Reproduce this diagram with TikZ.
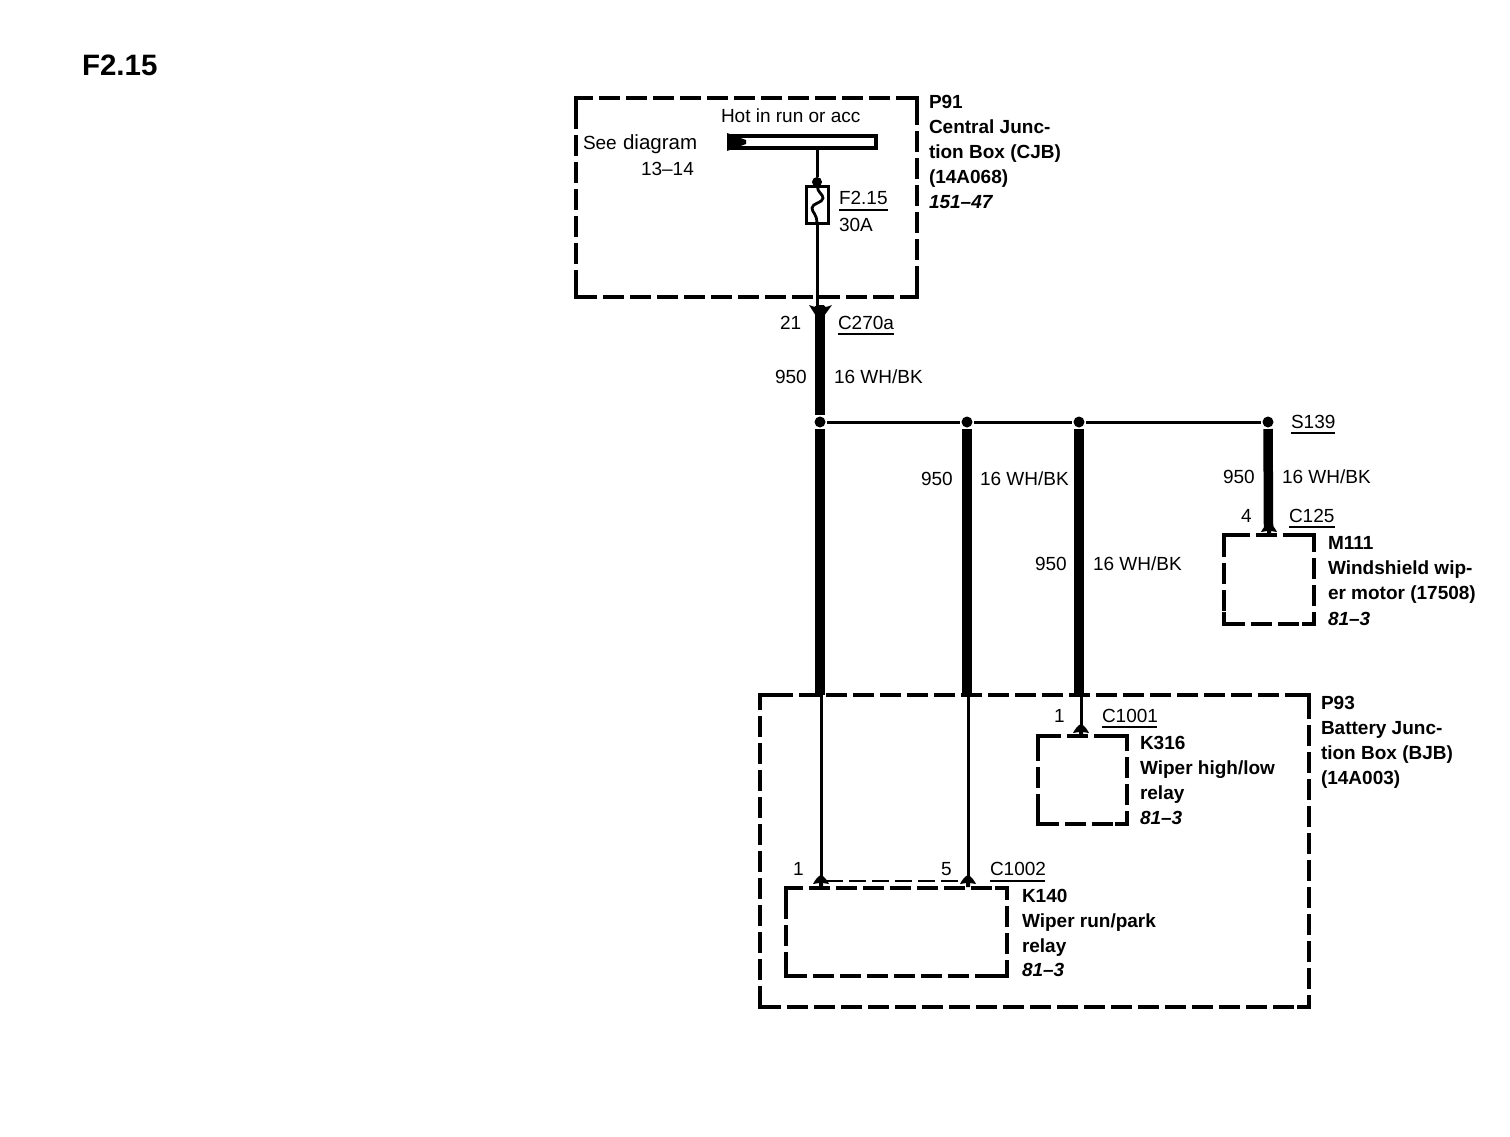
\documentclass[tikz,border=0pt]{standalone}
\usepackage{fontspec}
\setmainfont{Liberation Sans}
\newcommand{\regfont}{\fontsize{19}{19}\selectfont}
\newcommand{\pinup}[2]{\fill (#1-8,#2+2) .. controls (#1-6,#2-2) and (#1-3,#2-6) .. (#1,#2-7) .. controls (#1+3,#2-6) and (#1+6,#2-2) .. (#1+8,#2+2) -- (#1+2,#2+1) -- (#1+2,#2+5) -- (#1-2,#2+5) -- (#1-2,#2+1) -- cycle;}
\newcommand{\corners}[1]{%
  \draw[cornermark] ([yshift=-12pt]#1.north west) -- (#1.north west) -- ([xshift=12pt]#1.north west);
  \draw[cornermark] ([xshift=-12pt]#1.north east) -- (#1.north east) -- ([yshift=-12pt]#1.north east);
  \draw[cornermark] ([yshift=12pt]#1.south west) -- (#1.south west) -- ([xshift=12pt]#1.south west);
  \draw[cornermark] ([xshift=-12pt]#1.south east) -- (#1.south east) -- ([yshift=12pt]#1.south east);}
\tikzset{
  x=1pt,y=-1pt,
  txt/.style={anchor=base west,inner sep=0pt,outer sep=0pt,font=\regfont},
  bld/.style={txt,font=\regfont\bfseries},
  ita/.style={txt,font=\regfont\bfseries\itshape},
  dashbox/.style={draw,line width=3.6pt,dash pattern=on 21pt off 6pt,inner sep=0pt,outer sep=0pt},
  cornermark/.style={line width=3.6pt,miter limit=10},
  thinwire/.style={line width=3pt},
  thickwire/.style={line width=9.5pt},
  splice/.style={circle,fill=black,inner sep=0pt,minimum size=11pt,outer sep=1.5pt},
  rulemark/.style={line width=1.5pt},
}
\begin{document}
\begin{tikzpicture}
\useasboundingbox (0,0) rectangle (1510,1136);
\fill[white] (0,0) rectangle (1510,1136);
\node[txt,font=\fontsize{29.5}{29.5}\selectfont\bfseries] (title) at (82,75) {F2.15};

% boxes
\node[dashbox,minimum width=341pt,minimum height=199pt] (p91) at (746.5,197.5) {};
\node[dashbox,minimum width=549pt,minimum height=312pt] (p93) at (1034.5,851) {};
\node[dashbox,minimum width=89pt,minimum height=88pt] (k316) at (1082.5,780) {};
\node[dashbox,minimum width=221pt,minimum height=88pt] (k140) at (896.5,932) {};
\node[dashbox,minimum width=90pt,minimum height=89pt] (m111) at (1269,579.5) {};
\corners{p91}\corners{p93}\corners{k316}\corners{k140}\corners{m111}

% bus bar
\node[draw,line width=4.5pt,inner sep=0pt,outer sep=0pt,minimum width=146pt,minimum height=12pt] (bus) at (803,142) {};
\fill (727,133) -- (746,140) -- (746,144) -- (727,151) -- cycle;

% fuse
\node[draw,line width=2.8pt,inner sep=0pt,outer sep=0pt,minimum width=22pt,minimum height=37pt] (fuse) at (817.5,205) {};
\node[splice,minimum size=10pt,outer sep=0pt] (fdot) at (817,182) {};
\draw[line width=2.8pt] (fuse.north) .. controls (817,192) and (823,194) .. (823,198) .. controls (823,203) and (812,203) .. (812,208) .. controls (812,213) and (817,213) .. (817,224);
\draw[thinwire] (bus.south -| fdot) -- (fdot);
\coordinate (c270top) at (817.5,307);
\draw[thinwire] (fuse.south) -- (c270top);

% splices
\node[splice] (s1) at (820,422) {};
\node[splice] (s2) at (967,422) {};
\node[splice] (s3) at (1079,422) {};
\node[splice] (s4) at (1268,422) {};
\draw[thinwire] (s1) -- (s2);
\draw[thinwire] (s2) -- (s3);
\draw[thinwire] (s3) -- (s4);

% thick wires
\coordinate (c270) at (820,306);
\draw[thickwire] (c270) -- (s1);
\draw[thickwire] (s1) -- (s1 |- p93.north);
\draw[thickwire] (s2) -- (s2 |- p93.north);
\draw[thickwire] (s3) -- (s3 |- p93.north);
\coordinate (m111pin) at (1268.5,527);
\draw[thickwire] (s4) -- (m111pin);

% thin wires inside P93
\coordinate (k1) at (821,880);
\coordinate (k5) at (968,880);
\coordinate (k3) at (1081,728);
\draw[thinwire] (k1 |- p93.north) -- (k1);
\draw[thinwire] (k5 |- p93.north) -- (k5);
\draw[thinwire] (k3 |- p93.north) -- (k3);
\draw[line width=2.8pt,dash pattern=on 17pt off 6pt] (826,881) -- (963,881);

% pins
\pinup{821}{882}
\pinup{968}{882}
\pinup{1081}{731}
\pinup{1269}{530}
\fill (809,305) .. controls (815,307) and (817,308) .. (817,305) -- (824,305) .. controls (824,308) and (827,307) .. (832,305) -- (824,316) -- (816,316) -- cycle;

% texts
\node[txt] (hot) at (721,122) {Hot in run or acc};
\node[txt] (see) at (583,149) {See\hspace{1pt} {\fontsize{20.5}{20}\selectfont diagram}};
\node[txt] (seen) at (641,175) {13–14};
\node[txt] (fname) at (839,204) {F2.15};
\node[txt] (famp) at (839,231) {30A};
\draw[rulemark] (839,210) -- (888,210);

\node[bld] (p91a) at (929,108) {P91};
\node[bld] (p91b) at (929,133) {Central Junc-};
\node[bld] (p91c) at (929,158) {tion Box (CJB)};
\node[bld] (p91d) at (929,183) {(14A068)};
\node[ita] (p91e) at (929,208) {151–47};

\node[txt] (pin21) at (780,329) {21};
\node[txt] (c270a) at (838,329) {C270a};
\draw[rulemark] (838,334) -- (894,334);
\node[txt] (w1a) at (775,383) {950};
\node[txt] (w1b) at (834,383) {16 WH/BK};
\node[txt] (s139) at (1291,428) {S139};
\draw[rulemark] (1291,433) -- (1335,433);
\node[txt] (w2a) at (921,485) {950};
\node[txt] (w2b) at (980,485) {16 WH/BK};
\node[txt] (w3a) at (1035,570) {950};
\node[txt] (w3b) at (1093,570) {16 WH/BK};
\node[txt] (w4a) at (1223,483) {950};
\node[txt] (w4b) at (1282,483) {16 WH/BK};

\node[txt] (pin4) at (1241,522) {4};
\node[txt] (c125) at (1289,522) {C125};
\draw[rulemark] (1289,527) -- (1335,527);
\node[bld] (m1) at (1328,549) {M111};
\node[bld] (m2) at (1328,574) {Windshield wip-};
\node[bld] (m3) at (1328,599) {er motor (17508)};
\node[ita] (m4) at (1328,625) {81–3};

\node[bld] (b1) at (1321,709) {P93};
\node[bld] (b2) at (1321,734) {Battery Junc-};
\node[bld] (b3) at (1321,759) {tion Box (BJB)};
\node[bld] (b4) at (1321,784) {(14A003)};

\node[txt] (pin1a) at (1054,722) {1};
\node[txt] (c1001) at (1102,722) {C1001};
\draw[rulemark] (1102,727) -- (1157,727);
\node[bld] (r1) at (1140,749) {K316};
\node[bld] (r2) at (1140,774) {Wiper high/low};
\node[bld] (r3) at (1140,799) {relay};
\node[ita] (r4) at (1140,824) {81–3};

\node[txt] (pin1b) at (793,875) {1};
\node[txt] (pin5) at (941,875) {5};
\node[txt] (c1002) at (990,875) {C1002};
\draw[rulemark] (990,881) -- (1045,881);
\node[bld] (q1) at (1022,902) {K140};
\node[bld] (q2) at (1022,927) {Wiper run/park};
\node[bld] (q3) at (1022,952) {relay};
\node[ita] (q4) at (1022,976) {81–3};
\end{tikzpicture}
\end{document}
